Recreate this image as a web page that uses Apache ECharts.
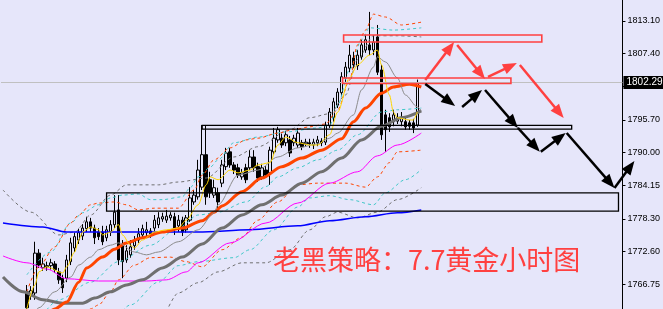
<!DOCTYPE html>
<html>
<head>
<meta charset="utf-8">
<script src="https://cdn.jsdelivr.net/npm/echarts@6/dist/echarts.min.js"></script>
<style>
  html, body { margin: 0; padding: 0; background: #E6E6FA; }
  #main { width: 663px; height: 309px; }
</style>
</head>
<body>
<div id="main"></div>
<script>
// 价格轴刻度
const tickLabels = ['1766.75', '1772.60', '1778.30', '1784.15', '1790.00', '1795.70', '1801.55', '1807.40', '1813.10'];
const lastPrice = 1802.29;
const slotCount = 156;
const firstCandleSlot = 6;

// K线 [open, close, low, high]
const ohlc = [
  [1765.5, 1762.7, 1761.4, 1766.7], [1764.8, 1765.7, 1764.1, 1766.5], [1765.3, 1772.3, 1764.1, 1774.3],
  [1772.3, 1770.2, 1769.7, 1773.0], [1769.7, 1770.4, 1769.2, 1771.5], [1769.9, 1770.1, 1769.2, 1770.8],
  [1770.1, 1770.6, 1769.4, 1771.3], [1770.4, 1769.4, 1768.8, 1770.9], [1769.0, 1767.6, 1766.9, 1769.7],
  [1767.9, 1766.2, 1765.3, 1768.5], [1767.9, 1771.1, 1767.2, 1772.0], [1770.8, 1774.1, 1770.2, 1775.0],
  [1773.2, 1775.2, 1772.5, 1775.9], [1774.6, 1775.9, 1773.9, 1776.6], [1775.3, 1776.7, 1774.6, 1777.4],
  [1776.6, 1777.8, 1776.0, 1778.7], [1777.8, 1776.7, 1776.0, 1778.5], [1776.7, 1775.0, 1773.9, 1777.3],
  [1776.0, 1775.2, 1774.6, 1776.7], [1776.0, 1774.3, 1773.7, 1777.1], [1775.0, 1776.4, 1774.4, 1777.1],
  [1776.0, 1777.3, 1775.3, 1778.1], [1777.3, 1779.5, 1776.7, 1782.5], [1779.9, 1771.1, 1770.2, 1782.5],
  [1773.7, 1770.8, 1767.9, 1774.6], [1771.1, 1772.7, 1770.6, 1773.7], [1772.0, 1773.4, 1771.5, 1774.6],
  [1773.6, 1774.6, 1772.9, 1775.3], [1774.6, 1775.7, 1774.1, 1776.7], [1775.5, 1776.6, 1775.0, 1777.3],
  [1775.9, 1776.4, 1775.2, 1777.8], [1776.2, 1775.7, 1775.0, 1776.7], [1776.7, 1778.1, 1776.2, 1779.0],
  [1777.3, 1778.5, 1776.7, 1779.5], [1778.3, 1778.7, 1777.8, 1779.4], [1778.1, 1778.8, 1777.6, 1779.9],
  [1778.5, 1779.0, 1778.0, 1779.5], [1778.7, 1776.7, 1775.5, 1779.4], [1777.1, 1778.1, 1776.0, 1779.0],
  [1778.1, 1776.0, 1775.3, 1778.7], [1776.4, 1778.5, 1775.9, 1779.0], [1778.1, 1782.0, 1777.8, 1783.9],
  [1781.3, 1782.5, 1780.8, 1783.4], [1782.2, 1786.9, 1781.7, 1788.7], [1783.9, 1789.6, 1783.4, 1794.8],
  [1789.6, 1782.2, 1780.8, 1794.8], [1785.2, 1782.9, 1782.0, 1786.6], [1782.5, 1783.8, 1782.0, 1785.2],
  [1782.9, 1781.3, 1780.2, 1783.8], [1784.6, 1787.8, 1783.9, 1788.7], [1787.5, 1789.9, 1786.9, 1790.8],
  [1790.1, 1787.8, 1787.3, 1790.8], [1787.8, 1786.9, 1786.2, 1788.3], [1787.3, 1786.0, 1785.5, 1788.0],
  [1785.7, 1786.4, 1785.2, 1787.1], [1787.3, 1785.2, 1784.6, 1788.0], [1787.3, 1789.2, 1786.9, 1790.4],
  [1789.2, 1787.3, 1786.6, 1790.4], [1787.5, 1785.5, 1784.8, 1788.2], [1785.7, 1787.3, 1785.2, 1788.0],
  [1786.9, 1786.0, 1785.5, 1787.6], [1786.4, 1790.4, 1784.3, 1791.0], [1790.1, 1792.5, 1789.6, 1794.3],
  [1792.2, 1794.0, 1791.7, 1794.5], [1792.5, 1791.3, 1790.8, 1793.3], [1791.7, 1793.1, 1791.1, 1793.8],
  [1792.2, 1789.9, 1789.2, 1792.9], [1791.7, 1792.5, 1791.1, 1793.1], [1791.3, 1793.4, 1790.8, 1794.3],
  [1791.7, 1791.0, 1790.4, 1792.2], [1791.5, 1791.8, 1791.0, 1792.4], [1791.7, 1791.5, 1790.8, 1792.4],
  [1791.3, 1791.8, 1790.6, 1792.4], [1791.7, 1792.2, 1791.1, 1792.9], [1792.0, 1791.7, 1791.1, 1792.5],
  [1791.8, 1794.8, 1791.3, 1795.4], [1794.7, 1797.1, 1794.3, 1797.8], [1796.1, 1798.9, 1795.4, 1799.6],
  [1798.3, 1800.6, 1797.8, 1801.3], [1800.5, 1803.3, 1799.9, 1804.1], [1803.1, 1805.0, 1802.4, 1805.9],
  [1804.8, 1807.1, 1804.1, 1808.9], [1806.6, 1805.4, 1804.8, 1807.7], [1805.2, 1807.1, 1804.5, 1808.0],
  [1806.8, 1808.9, 1806.3, 1809.8], [1808.0, 1809.8, 1807.5, 1810.6], [1808.9, 1808.0, 1807.1, 1814.7],
  [1808.0, 1809.4, 1807.1, 1810.6], [1810.3, 1804.1, 1803.6, 1812.4], [1804.5, 1793.1, 1792.2, 1805.4],
  [1796.6, 1794.0, 1790.1, 1797.5], [1796.1, 1794.5, 1793.6, 1796.9], [1795.4, 1796.6, 1794.6, 1797.5],
  [1795.5, 1796.1, 1795.0, 1796.9], [1795.4, 1796.2, 1794.6, 1797.1], [1795.4, 1794.5, 1794.0, 1796.1],
  [1795.2, 1794.6, 1794.0, 1795.7], [1795.2, 1794.3, 1793.4, 1795.9], [1794.8, 1802.29, 1794.5, 1802.8]
];

// 均线 [slot, price]
const maYellow = [[6,1762.5],[8,1766.7],[9,1769.0],[11,1769.9],[12,1769.7],[14,1769.0],[15,1768.8],[16,1769.9],[18,1772.5],[19,1774.6],[20,1776.0],[22,1776.9],[24,1776.4],[25,1775.5],[27,1776.0],[29,1777.3],[30,1775.5],[32,1773.7],[33,1773.2],[35,1774.6],[38,1776.0],[41,1776.4],[44,1776.7],[46,1778.1],[49,1780.8],[51,1784.3],[52,1785.7],[54,1785.2],[57,1786.9],[59,1786.4],[62,1786.9],[64,1787.8],[67,1788.2],[69,1791.3],[71,1792.7],[74,1791.7],[77,1791.3],[79,1791.3],[82,1793.1],[84,1797.1],[87,1803.1],[89,1805.4],[92,1807.1],[94,1808.0],[95,1805.4],[97,1800.1],[98,1797.1],[99,1796.1],[102,1795.7],[103,1795.7],[104,1797.1]];
const maGrayThin = [[7,1760.6],[9,1762.7],[13,1765.5],[17,1768.1],[19,1770.2],[22,1771.6],[24,1772.9],[27,1773.7],[29,1774.1],[33,1772.5],[36,1772.0],[39,1772.5],[44,1774.3],[49,1776.4],[53,1779.4],[54,1780.8],[59,1786.0],[64,1786.9],[69,1789.2],[74,1790.8],[79,1791.5],[82,1792.5],[84,1793.4],[88,1796.6],[90,1801.0],[93,1805.0],[94,1806.8],[96,1805.9],[99,1803.1],[101,1800.1],[104,1798.0],[105,1797.3]];
const maOrange = [[10,1760.2],[13,1762.5],[16,1763.7],[19,1767.2],[21,1769.7],[25,1771.6],[28,1773.0],[31,1774.1],[35,1775.0],[40,1776.0],[45,1776.7],[50,1778.0],[53,1779.5],[55,1780.6],[60,1783.1],[65,1785.5],[70,1787.5],[75,1789.0],[80,1790.4],[85,1792.4],[88,1795.4],[91,1797.8],[95,1800.4],[98,1801.5],[102,1802.0],[105,1801.5]];
const maGrayThick = [[0,1768.1],[5,1765.5],[10,1764.1],[15,1763.5],[20,1763.5],[23,1764.4],[27,1765.5],[31,1766.7],[35,1767.6],[40,1769.7],[45,1771.6],[50,1773.9],[55,1776.7],[60,1779.0],[65,1780.8],[70,1782.5],[75,1784.6],[80,1786.6],[85,1789.0],[90,1792.2],[95,1794.6],[100,1796.1],[105,1797.3]];
const maMagenta = [[0,1771.8],[6,1770.6],[11,1769.5],[16,1767.8],[24,1767.4],[36,1767.4],[41,1767.6],[46,1769.0],[49,1770.6],[57,1774.1],[66,1777.6],[74,1781.1],[82,1784.6],[89,1786.6],[94,1789.4],[99,1791.3],[105,1793.4]];
const maBlue = [[0,1777.6],[10,1776.9],[16,1776.0],[49,1776.0],[62,1776.4],[74,1777.1],[82,1778.0],[91,1778.7],[99,1779.4],[105,1779.9]];

// 通道虚线 [slot, price]
const orangeUpper = [[6,1765.5],[9,1769.9],[13,1773.4],[17,1777.6],[19,1779.0],[22,1780.8],[24,1781.1],[28,1781.3],[31,1780.8],[34,1779.9],[38,1780.2],[44,1780.2],[48,1783.4],[50,1786.0],[53,1788.7],[57,1790.8],[61,1792.2],[64,1792.5],[69,1793.4],[73,1794.0],[77,1794.5],[81,1795.0],[84,1797.5],[87,1802.7],[89,1808.9],[91,1811.5],[93,1814.3],[96,1813.8],[100,1812.4],[105,1812.9]];
const orangeLower = [[19,1760.0],[22,1762.5],[24,1763.2],[27,1765.5],[29,1767.6],[33,1770.2],[37,1771.5],[42,1771.6],[46,1770.8],[50,1769.9],[55,1772.9],[60,1775.1],[64,1778.1],[69,1781.3],[74,1784.3],[79,1784.6],[86,1784.6],[91,1783.9],[94,1785.7],[97,1788.2],[99,1790.1],[105,1790.4]];
const cyanUpper = [[6,1768.5],[12,1772.5],[17,1777.6],[20,1779.4],[24,1780.8],[27,1782.0],[30,1782.5],[34,1782.7],[37,1781.7],[40,1781.7],[45,1782.2],[47,1783.8],[49,1785.7],[52,1787.4],[54,1788.7],[58,1791.7],[64,1792.7],[71,1793.6],[79,1794.3],[82,1794.8],[84,1798.3],[87,1804.5],[90,1809.8],[92,1811.9],[98,1811.5],[105,1811.9]];
const cyanLowerA = [[10,1761.5],[14,1764.1],[22,1767.2],[29,1770.8],[37,1773.7],[44,1776.7],[49,1779.0],[54,1779.5],[61,1781.3],[66,1784.0],[69,1785.7],[74,1787.3],[79,1788.7],[84,1790.4],[89,1793.1],[95,1797.1],[99,1797.5],[105,1797.8]];
const cyanLowerB = [[28,1760.5],[32,1763.2],[39,1767.2],[44,1770.1],[49,1770.8],[58,1771.5],[62,1772.9],[68,1776.4],[74,1780.4],[77,1782.0],[82,1782.4],[87,1781.7],[93,1780.8],[96,1782.9],[101,1785.2],[105,1787.0]];
const grayUpper = [[0,1783.4],[7,1779.5],[14,1775.5],[18,1776.0],[22,1779.0],[27,1782.5],[31,1784.3],[39,1784.3],[44,1784.8],[51,1785.5],[58,1789.2],[64,1791.0],[72,1794.0],[77,1796.1],[82,1796.8],[86,1800.1],[89,1806.3],[93,1810.5],[99,1810.5],[105,1810.3]];
const grayLower = [[41,1762.0],[44,1765.3],[49,1767.1],[54,1769.0],[60,1770.6],[66,1770.6],[72,1772.9],[77,1776.4],[81,1778.7],[84,1779.5],[89,1778.5],[94,1779.5],[99,1781.7],[105,1783.8]];

// 画线标注 [slot, price]
const boxes = [
  { from: [26, 1782.9], to: [154.5, 1779.7], color: '#000000', width: 1.3 },
  { from: [50, 1794.75], to: [142.75, 1794.1], color: '#000000', width: 1.3 },
  { from: [85.5, 1810.64], to: [135.25, 1809.41], color: '#FF4040', width: 1.6 },
  { from: [85.25, 1803.09], to: [127.5, 1802.12], color: '#FF4040', width: 1.6 }
];
const redArrows = [
  [[106, 1802.73], [113.25, 1809.41]],
  [[114, 1808.88], [121, 1802.91]],
  [[121.75, 1803.26], [129, 1805.72]],
  [[129.75, 1805.37], [140.75, 1796.06]]
];
const blackArrows = [
  [[106, 1802.03], [113.5, 1798.16]],
  [[115.25, 1797.99], [120.25, 1800.98]],
  [[121, 1800.98], [129.25, 1794.3]],
  [[129.25, 1794.3], [134.75, 1790.1]],
  [[135, 1790.1], [141.25, 1793.42]],
  [[141.5, 1793.42], [153.5, 1783.76]],
  [[153.5, 1783.76], [158.5, 1788.5]]
];
const title = { text: '老黑策略：7.7黄金小时图', at: [67.75, 1771.1] };

const slotIds = Array.from({ length: slotCount }, (_, i) => String(i));
const candleData = slotIds.map((_, i) => ohlc[i - firstCandleSlot] || ['-', '-', '-', '-']);
const tickValues = tickLabels.map(Number);

const chart = echarts.init(document.getElementById('main'), null, { renderer: 'canvas' });

function lineSeries(data, color, width, dashed) {
  return {
    type: 'line',
    data: data,
    showSymbol: false,
    smooth: 0.3,
    smoothMonotone: 'x',
    silent: true,
    lineStyle: { color: color, width: width, type: dashed ? [3, 3] : 'solid' }
  };
}

chart.setOption({
  animation: false,
  backgroundColor: '#E6E6FA',
  grid: { left: 1, right: 38, top: 0, bottom: 0 },
  xAxis: {
    type: 'category',
    data: slotIds,
    boundaryGap: true,
    show: false
  },
  yAxis: {
    type: 'value',
    position: 'right',
    min: 1762.48,
    max: 1816.79,
    splitLine: { show: false },
    axisLine: { show: true, lineStyle: { color: '#000', width: 1 } },
    axisTick: { show: true, length: 3, lineStyle: { color: '#000' }, customValues: tickValues },
    axisLabel: {
      customValues: tickValues,
      margin: 5,
      color: '#000',
      fontSize: 9,
      fontFamily: 'Liberation Sans',
      formatter: v => v.toFixed(2)
    }
  },
  series: [
    {
      type: 'candlestick',
      data: candleData,
      barWidth: 3,
      clip: false,
      itemStyle: {
        color: '#E6E6FA',
        color0: '#000000',
        borderColor: '#000000',
        borderColor0: '#000000',
        borderWidth: 1
      },
      markLine: {
        silent: true,
        symbol: ['none', 'none'],
        lineStyle: { color: '#C0C0C0', width: 1, type: 'solid' },
        label: {
          show: true,
          position: 'end',
          distance: 1,
          formatter: lastPrice.toFixed(2),
          color: '#fff',
          backgroundColor: '#000',
          padding: [2, 3, 1, 3],
          fontSize: 10,
          fontFamily: 'Liberation Sans'
        },
        data: [{ yAxis: lastPrice }]
      }
    },
    lineSeries(grayUpper, '#707070', 1, true),
    lineSeries(grayLower, '#707070', 1, true),
    lineSeries(cyanUpper, '#40C8C8', 1, true),
    lineSeries(cyanLowerA, '#40C8C8', 1, true),
    lineSeries(cyanLowerB, '#40C8C8', 1, true),
    lineSeries(orangeUpper, '#FF4500', 1, true),
    lineSeries(orangeLower, '#FF4500', 1, true),
    lineSeries(maBlue, '#0000FF', 1.5, false),
    lineSeries(maMagenta, '#FF00FF', 1, false),
    lineSeries(maGrayThick, '#707070', 3, false),
    lineSeries(maOrange, '#FF4500', 3, false),
    lineSeries(maGrayThin, '#8C8C8C', 1, false),
    lineSeries(maYellow, '#FFD700', 1, false)
  ]
});

// 标注换算成像素
function toPx(pt) {
  const a = chart.convertToPixel({ xAxisIndex: 0, yAxisIndex: 0 }, [0, pt[1]]);
  const b = chart.convertToPixel({ xAxisIndex: 0, yAxisIndex: 0 }, [slotCount - 1, pt[1]]);
  const step = (b[0] - a[0]) / (slotCount - 1);
  return [a[0] + step * pt[0], a[1]];
}

function arrow(p0, p1, color) {
  const s = toPx(p0), e = toPx(p1);
  const dx = e[0] - s[0], dy = e[1] - s[1];
  const len = Math.hypot(dx, dy);
  const ux = dx / len, uy = dy / len;
  const nx = -uy, ny = ux;
  const L = 14, W = 5.5;
  const bx = e[0] - ux * L, by = e[1] - uy * L;
  return [
    { type: 'line', z: 100, shape: { x1: s[0], y1: s[1], x2: bx + ux * 3, y2: by + uy * 3 },
      style: { stroke: color, lineWidth: 2.5 } },
    { type: 'polygon', z: 100, shape: { points: [[e[0], e[1]], [bx + nx * W, by + ny * W], [bx - nx * W, by - ny * W]] },
      style: { fill: color } }
  ];
}

const graphics = [];
boxes.forEach(b => {
  const p = toPx(b.from), q = toPx(b.to);
  graphics.push({
    type: 'rect', z: 100,
    shape: { x: Math.min(p[0], q[0]), y: Math.min(p[1], q[1]), width: Math.abs(q[0] - p[0]), height: Math.abs(q[1] - p[1]) },
    style: { fill: 'none', stroke: b.color, lineWidth: b.width }
  });
});
redArrows.forEach(a => graphics.push(...arrow(a[0], a[1], '#FF4040')));
blackArrows.forEach(a => graphics.push(...arrow(a[0], a[1], '#000000')));
const tp = toPx(title.at);
graphics.push({
  type: 'text', z: 101, x: tp[0], y: tp[1],
  style: {
    text: title.text,
    fill: '#FF4040',
    fontSize: 27,
    fontFamily: '"Noto Sans CJK SC"',
    verticalAlign: 'middle',
    align: 'left'
  }
});

chart.setOption({ graphic: graphics });
</script>
</body>
</html>
